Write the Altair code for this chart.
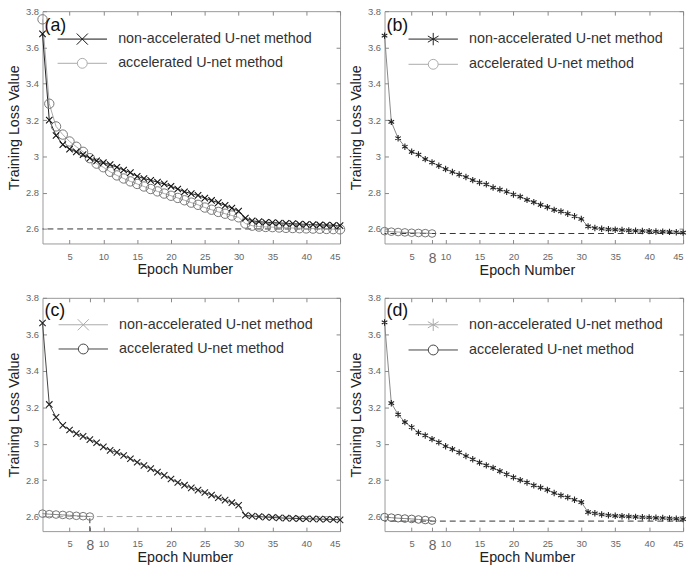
import altair as alt
import pandas as pd

epochs = list(range(1, 46))

a_non = [3.675, 3.20, 3.115, 3.065, 3.04, 3.025, 3.01, 2.99, 2.975, 2.965,
         2.955, 2.94, 2.925, 2.91, 2.89, 2.878, 2.868, 2.858, 2.848, 2.835,
         2.82, 2.805, 2.795, 2.785, 2.77, 2.757, 2.745, 2.73, 2.715, 2.698,
         2.66, 2.645, 2.64, 2.637, 2.635, 2.633, 2.631, 2.629, 2.627, 2.625,
         2.624, 2.622, 2.621, 2.62, 2.618]
a_acc = [3.755, 3.29, 3.165, 3.12, 3.082, 3.053, 3.025, 2.99, 2.96, 2.94,
         2.915, 2.895, 2.878, 2.862, 2.848, 2.834, 2.82, 2.807, 2.795, 2.783,
         2.771, 2.758, 2.745, 2.733, 2.718, 2.706, 2.694, 2.684, 2.674, 2.664,
         2.63, 2.618, 2.613, 2.611, 2.61, 2.608, 2.606, 2.605, 2.604, 2.603,
         2.602, 2.601, 2.6, 2.599, 2.598]
b_non = [3.665, 3.19, 3.10, 3.053, 3.025, 3.01, 2.985, 2.967, 2.948, 2.93,
         2.914, 2.9, 2.886, 2.869, 2.856, 2.846, 2.828, 2.817, 2.805, 2.79,
         2.778, 2.76, 2.748, 2.733, 2.72, 2.705, 2.697, 2.684, 2.67, 2.655,
         2.614, 2.605, 2.601, 2.598, 2.596, 2.594, 2.592, 2.59, 2.589, 2.588,
         2.586, 2.585, 2.584, 2.582, 2.58]
b_acc = [2.588, 2.585, 2.583, 2.581, 2.579, 2.578, 2.577, 2.575]
c_non = [3.662, 3.215, 3.145, 3.10, 3.075, 3.055, 3.04, 3.022, 3.005, 2.982,
         2.963, 2.952, 2.935, 2.917, 2.898, 2.88, 2.863, 2.844, 2.826, 2.806,
         2.787, 2.772, 2.757, 2.745, 2.732, 2.718, 2.703, 2.69, 2.676, 2.662,
         2.607, 2.603, 2.6, 2.597, 2.595, 2.593, 2.591, 2.59, 2.589, 2.588,
         2.587, 2.586, 2.585, 2.584, 2.582]
c_acc = [2.616, 2.613, 2.611, 2.609, 2.607, 2.604, 2.602, 2.6]
d_non = [3.665, 3.222, 3.16, 3.118, 3.09, 3.06, 3.045, 3.025, 3.007, 2.986,
         2.97, 2.952, 2.932, 2.914, 2.896, 2.881, 2.867, 2.849, 2.832, 2.815,
         2.8, 2.787, 2.771, 2.759, 2.746, 2.729, 2.716, 2.705, 2.692, 2.679,
         2.624, 2.618, 2.611, 2.607, 2.604, 2.602, 2.6, 2.598, 2.596, 2.595,
         2.593, 2.592, 2.59, 2.588, 2.586]
d_acc = [2.597, 2.594, 2.591, 2.589, 2.587, 2.584, 2.581, 2.578]

baselines = [2.6, 2.575, 2.6, 2.575]
panel_labels = ["(a)", "(b)", "(c)", "(d)"]
series_names = ["non-accelerated U-net method", "accelerated U-net method"]
x_ticks_a = [5, 10, 15, 20, 25, 30, 35, 40, 45]
x_ticks_bcd = [5, 8, 10, 15, 20, 25, 30, 35, 40, 45]
y_ticks = [2.6, 2.8, 3.0, 3.2, 3.4, 3.6, 3.8]
y_min = 2.52

FONT = "Liberation Sans"
X_PATH = "M-1,-1L1,1M-1,1L1,-1"
STAR_PATH = "M0,-1L0,1M-0.87,-0.5L0.87,0.5M-0.87,0.5L0.87,-0.5"
LEG_X = "M-4,0L4,0M-0.9,-0.9L0.9,0.9M-0.9,0.9L0.9,-0.9"
LEG_STAR = "M-4,0L4,0M0,-1L0,1M-0.87,-0.5L0.87,0.5M-0.87,0.5L0.87,-0.5"
LEG_O = "M-4,0L-0.8,0M0.8,0L4,0M-0.8,0A0.8,0.8,0,1,1,0.8,0A0.8,0.8,0,1,1,-0.8,0"

W = [301, 302, 301, 302]
H = [235, 235, 236, 236]
LEG_X_POS = [33, 42, 34, 42]
LEG_Y_POS = [21, 21, 20, 20]
LABEL_Y = [15, 15, 13, 13]
CIRCLE_SIZE = [90, 60, 60, 60]
TITLE_PAD = [2, -2, -2, -2]
TICK_COLOR = "#888"


def panel(i, non, acc, mpath, legpath, colors, legcolors, dash_color):
    xt = x_ticks_a if i == 0 else x_ticks_bcd
    xs = alt.Scale(domain=[1, 45], nice=False, zero=False)
    ys = alt.Scale(domain=[y_min, 3.8], nice=False, zero=False)
    x_lab = alt.X("epoch:Q", scale=xs,
                  axis=alt.Axis(values=xt, title="Epoch Number", grid=False, domain=False, ticks=False,
                                labelFlush=True, labelOverlap=False,
                                labelFont=FONT, labelColor="#666",
                                labelFontSize={"condition": {"test": "datum.value == 8", "value": 14}, "value": 9.5},
                                labelPadding=8, titlePadding=TITLE_PAD[i], titleX=144, titleAlign="center",
                                titleFont=FONT, titleFontSize=14.5, titleFontWeight="normal", titleColor="#222"))
    y_lab = alt.Y("loss:Q", scale=ys,
                  axis=alt.Axis(values=y_ticks, format="~g", title="Training Loss Value",
                                grid=False, domain=False, ticks=False, labelOverlap=False,
                                labelFont=FONT, labelFontSize=9.5, labelColor="#666",
                                labelPadding=4, titlePadding=4,
                                titleFont=FONT, titleFontSize=14.5, titleFontWeight="normal", titleColor="#222"))
    x = alt.X("epoch:Q", scale=xs, axis=None)
    y = alt.Y("loss:Q", scale=ys, axis=None)

    def tick_axis(values, orient, offset):
        return alt.Axis(values=values, orient=orient, offset=offset, labels=False, title=None,
                        ticks=True, tickSize=4, tickColor=TICK_COLOR, tickWidth=1,
                        domain=False, grid=False)

    df_non = pd.DataFrame({"epoch": epochs, "loss": non})
    df_acc = pd.DataFrame({"epoch": epochs[:len(acc)], "loss": acc})
    df_base = pd.DataFrame({"loss": [baselines[i]]})

    # inward tick marks on all four sides of the box
    t1 = alt.Chart(df_non).mark_point(opacity=0).encode(
        x=alt.X("epoch:Q", scale=xs, axis=tick_axis(xt, "top", -H[i])),
        y=alt.Y("loss:Q", scale=ys, axis=tick_axis(y_ticks, "right", -W[i])))
    t2 = alt.Chart(df_non).mark_point(opacity=0).encode(
        x=alt.X("epoch:Q", scale=xs, axis=tick_axis(xt, "bottom", -H[i])),
        y=alt.Y("loss:Q", scale=ys, axis=tick_axis(y_ticks, "left", -W[i])))

    l_non = alt.Chart(df_non).mark_line(color=colors[0], strokeWidth=1).encode(x=x_lab, y=y_lab)
    p_non = alt.Chart(df_non).mark_point(shape=mpath, size=42, filled=False,
                                         color=colors[1], strokeWidth=1.1, opacity=1).encode(x=x, y=y)
    l_acc = alt.Chart(df_acc).mark_line(color=colors[2], strokeWidth=1).encode(x=x, y=y)
    p_acc = alt.Chart(df_acc).mark_point(shape="circle", size=CIRCLE_SIZE[i], filled=False,
                                         color=colors[3], strokeWidth=1, opacity=1).encode(x=x, y=y)
    rule = alt.Chart(df_base).mark_rule(color=dash_color, strokeDash=[6, 4], strokeWidth=1).encode(y=y)

    leg = alt.Legend(title=None, orient="none", legendX=LEG_X_POS[i], legendY=LEG_Y_POS[i],
                     labelFont=FONT, labelFontSize=14.5, labelColor="#333", labelLimit=0,
                     labelOffset=29, rowPadding=8.5, padding=0,
                     symbolSize=156, symbolStrokeWidth=1)
    df_leg = pd.DataFrame({"series": series_names, "epoch": [1, 1], "loss": [3.0, 3.0]})
    legend_layer = alt.Chart(df_leg).transform_filter("false").mark_point(
        filled=False, opacity=1).encode(
        x=x, y=y,
        shape=alt.Shape("series:N", scale=alt.Scale(domain=series_names, range=[legpath, LEG_O]), legend=leg),
        color=alt.Color("series:N", scale=alt.Scale(domain=series_names, range=legcolors), legend=leg),
    )
    label = alt.Chart(df_base).mark_text(
        text=panel_labels[i], font=FONT, fontSize=18, color="#111", align="left", baseline="middle"
    ).encode(x=alt.value(2), y=alt.value(LABEL_Y[i]))

    layers = [t1, t2, rule, l_acc, l_non, p_acc, p_non, legend_layer, label]
    if i == 2:
        df_v = pd.DataFrame({"epoch": [8], "loss": [y_min], "loss2": [baselines[i]]})
        vr = alt.Chart(df_v).mark_rule(color="#333", strokeDash=[5, 3]).encode(
            x=x, y=y, y2="loss2:Q")
        layers.insert(3, vr)
    return alt.layer(*layers).resolve_axis(x="independent", y="independent").properties(
        width=W[i], height=H[i])


pa = panel(0, a_non, a_acc, X_PATH, LEG_X, ["#222", "#111", "#aaa", "#777"], ["#111", "#aaa"], "#333")
pb = panel(1, b_non, b_acc, STAR_PATH, LEG_STAR, ["#888", "#222", "#999", "#777"], ["#222", "#aaa"], "#333")
pc = panel(2, c_non, c_acc, X_PATH, LEG_X, ["#444", "#222", "#888", "#777"], ["#aaa", "#444"], "#aaa")
pd_ = panel(3, d_non, d_acc, STAR_PATH, LEG_STAR, ["#888", "#222", "#888", "#666"], ["#aaa", "#444"], "#333")

chart = alt.concat(pa, pb, pc, pd_, columns=2, spacing={"row": 55, "column": 45}, bounds="flush").resolve_scale(
    color="independent", shape="independent").resolve_legend(color="independent", shape="independent").properties(
    padding={"left": 6, "top": 2, "right": 0, "bottom": 0},
    background="white"
).configure_view(stroke="#999", strokeWidth=1)

chart.save("out.html", embed_options={"renderer": "svg", "actions": False})
